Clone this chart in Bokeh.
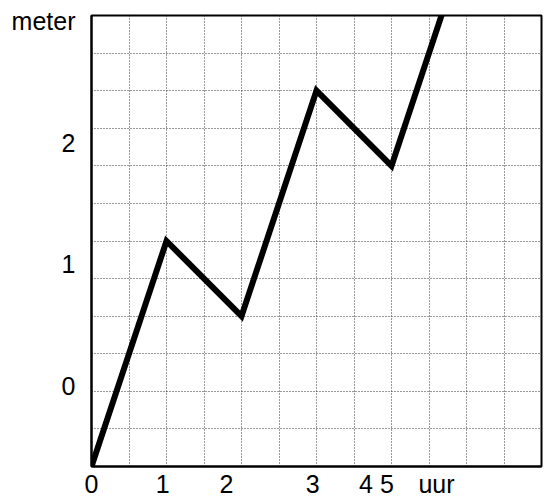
from bokeh.plotting import figure
from bokeh.models import FixedTicker, Range1d
from bokeh.embed import file_html
from bokeh.resources import INLINE

# Data (in grid units)
hours = [0, 2, 4, 6, 8, 10]
meters = [0, 6, 4, 10, 8, 14]

x_tick_pos = [0, 1.9, 3.6, 5.9, 7.6, 9.2]
x_tick_labels = ["0", "1", "2", "3", "4 5", "uur"]
y_tick_pos = [2.15, 5.4, 8.6, 11.85]
y_tick_labels = ["0", "1", "2", "meter"]
grid_ticks = list(range(13))

p = figure(width=544, height=501, output_backend="svg", toolbar_location=None,
           x_range=Range1d(0, 12), y_range=Range1d(0, 12),
           min_border_left=91, min_border_right=3, min_border_top=15, min_border_bottom=35)

p.line(hours, meters, line_color="black", line_width=6, line_join="miter")

for ax, pos, labs in ((p.xaxis[0], x_tick_pos, x_tick_labels), (p.yaxis[0], y_tick_pos, y_tick_labels)):
    ax.ticker = FixedTicker(ticks=pos)
    ax.major_label_overrides = {pv: lb for pv, lb in zip(pos, labs)}
    ax.major_tick_line_color = None
    ax.minor_tick_line_color = None
    ax.axis_line_color = "black"
    ax.axis_line_width = 2
    ax.major_label_text_font = "Liberation Sans"
    ax.major_label_text_font_size = "25px"
    ax.major_label_text_color = "black"

p.xaxis.major_label_standoff = -3
p.yaxis.major_label_standoff = 10

p.xgrid.ticker = FixedTicker(ticks=grid_ticks)
p.ygrid.ticker = FixedTicker(ticks=grid_ticks)
for g in (p.xgrid[0], p.ygrid[0]):
    g.grid_line_color = "#333333"
    g.grid_line_dash = "1 2"
    g.grid_line_width = 1

p.outline_line_color = "black"
p.outline_line_width = 2
p.outline_line_alpha = 1
p.background_fill_color = "white"
p.border_fill_color = "white"

open("out.html", "w").write(file_html(p, INLINE))
